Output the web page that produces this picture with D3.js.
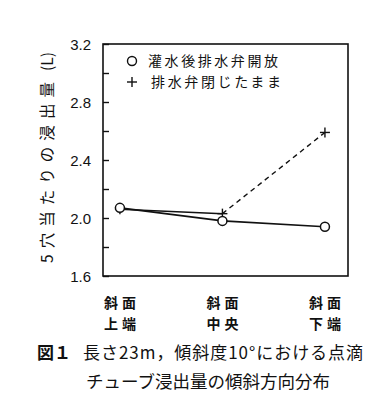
<!DOCTYPE html>
<html lang="ja">
<head>
<meta charset="UTF-8">
<title>点滴チューブ浸出量の傾斜方向分布</title>
<style>
  body { margin: 0; background: #fff; }
  svg { display: block; }
</style>
<script src="https://d3js.org/d3.v7.min.js"></script>
</head>
<body>
<div id="chart"></div>
<script>
  // data
  const positions = [["斜面", "上端"], ["斜面", "中央"], ["斜面", "下端"]];
  const openValues = [2.07, 1.98, 1.94];
  const closedValues = [2.06, 2.03, 2.59];
  const legendLabels = ["灌水後排水弁開放", "排水弁閉じたまま"];
  const yTicks = [1.6, 2.0, 2.4, 2.8, 3.2];
  const yMinorTicks = [1.8, 2.2, 2.6, 3.0];

  const W = 368, H = 400;
  const plot = {left: 103, right: 348, top: 44, bottom: 276};
  const font = "'Noto Sans CJK JP', 'Liberation Sans', Arial, sans-serif";

  const svg = d3.select("#chart").append("svg")
    .attr("width", W).attr("height", H);

  const x = d3.scaleLinear().domain([-0.165, 2.225]).range([plot.left, plot.right]);
  const y = d3.scaleLinear().domain([1.6, 3.2]).range([plot.bottom, plot.top]);

  // frame
  svg.append("rect")
    .attr("x", plot.left).attr("y", plot.top)
    .attr("width", plot.right - plot.left).attr("height", plot.bottom - plot.top)
    .attr("fill", "none").attr("stroke", "#111").attr("stroke-width", 1.6);

  // y axis: inward ticks, labels only on major
  const yAxis = svg.append("g").attr("transform", `translate(${plot.left},0)`)
    .call(d3.axisRight(y).tickValues(yTicks.concat(yMinorTicks)).tickSize(6).tickFormat(""));
  yAxis.select(".domain").remove();
  yAxis.selectAll("line").attr("stroke", "#111").attr("stroke-width", 1.4);

  svg.append("g").selectAll("text").data(yTicks).enter().append("text")
    .attr("x", 91).attr("y", d => y(d) + 5.5)
    .attr("text-anchor", "end")
    .style("font-family", "'Liberation Sans', Arial, sans-serif")
    .style("font-size", "15px").attr("fill", "#111")
    .text(d => d.toFixed(1));

  const yTitle = svg.append("text")
    .attr("transform", `translate(53,${plot.bottom - 13}) rotate(-90)`)
    .style("font-family", font).style("font-size", "15.5px").attr("fill", "#111");
  yTitle.append("tspan").attr("textLength", 181).attr("lengthAdjust", "spacing")
    .text("5穴当たりの浸出量");
  yTitle.append("tspan").attr("dx", 5).text("(L)");

  // x labels
  const xl = svg.append("g").selectAll("text").data(positions).enter().append("text")
    .attr("text-anchor", "middle")
    .style("font-family", font).style("font-size", "14px").style("font-weight", "bold")
    .attr("fill", "#111");
  xl.append("tspan").attr("x", (d, i) => x(i)).attr("y", 308)
    .attr("textLength", 32).attr("lengthAdjust", "spacing").text(d => d[0]);
  xl.append("tspan").attr("x", (d, i) => x(i)).attr("y", 329)
    .attr("textLength", 32).attr("lengthAdjust", "spacing").text(d => d[1]);

  // lines
  const line = d3.line().x((d, i) => x(i)).y(d => y(d));
  svg.append("path").datum(closedValues.slice(0, 2)).attr("d", line)
    .attr("fill", "none").attr("stroke", "#111").attr("stroke-width", 1.5);
  svg.append("path")
    .attr("d", d3.line()([[x(1), y(closedValues[1])], [x(2), y(closedValues[2])]]))
    .attr("fill", "none").attr("stroke", "#111").attr("stroke-width", 1.4)
    .attr("stroke-dasharray", "5,4");
  svg.append("path").datum(openValues).attr("d", line)
    .attr("fill", "none").attr("stroke", "#111").attr("stroke-width", 1.6);

  // plus markers
  function plus(g, cx, cy, s) {
    g.append("line").attr("x1", cx - s).attr("x2", cx + s).attr("y1", cy).attr("y2", cy)
      .attr("stroke", "#111").attr("stroke-width", 1.4);
    g.append("line").attr("x1", cx).attr("x2", cx).attr("y1", cy - s).attr("y2", cy + s)
      .attr("stroke", "#111").attr("stroke-width", 1.4);
  }
  const pg = svg.append("g");
  closedValues.forEach((v, i) => plus(pg, x(i), y(v), 5));

  // circle markers
  svg.append("g").selectAll("circle").data(openValues).enter().append("circle")
    .attr("cx", (d, i) => x(i)).attr("cy", d => y(d)).attr("r", 4.5)
    .attr("fill", "#fff").attr("stroke", "#111").attr("stroke-width", 1.5);

  // legend
  svg.append("circle").attr("cx", 132).attr("cy", 61).attr("r", 4.5)
    .attr("fill", "#fff").attr("stroke", "#111").attr("stroke-width", 1.4);
  plus(svg, 132, 82, 5);
  svg.append("g").selectAll("text").data(legendLabels).enter().append("text")
    .attr("x", (d, i) => i === 0 ? 148 : 151).attr("y", (d, i) => 66 + i * 21)
    .attr("textLength", 130).attr("lengthAdjust", "spacing")
    .style("font-family", font).style("font-size", "14px").attr("fill", "#111")
    .text(d => d);

  // caption
  const cap = svg.append("g").style("font-family", font).attr("fill", "#111");
  cap.append("text").attr("x", 37).attr("y", 359)
    .style("font-size", "17px").style("font-weight", "bold").text("図１");
  cap.append("text").attr("x", 83).attr("y", 359)
    .attr("textLength", 280).attr("lengthAdjust", "spacing")
    .style("font-size", "17px").text("長さ23m，傾斜度10°における点滴");
  cap.append("text").attr("x", 86).attr("y", 388)
    .style("font-size", "17.5px").text("チューブ浸出量の傾斜方向分布");
</script>
</body>
</html>
